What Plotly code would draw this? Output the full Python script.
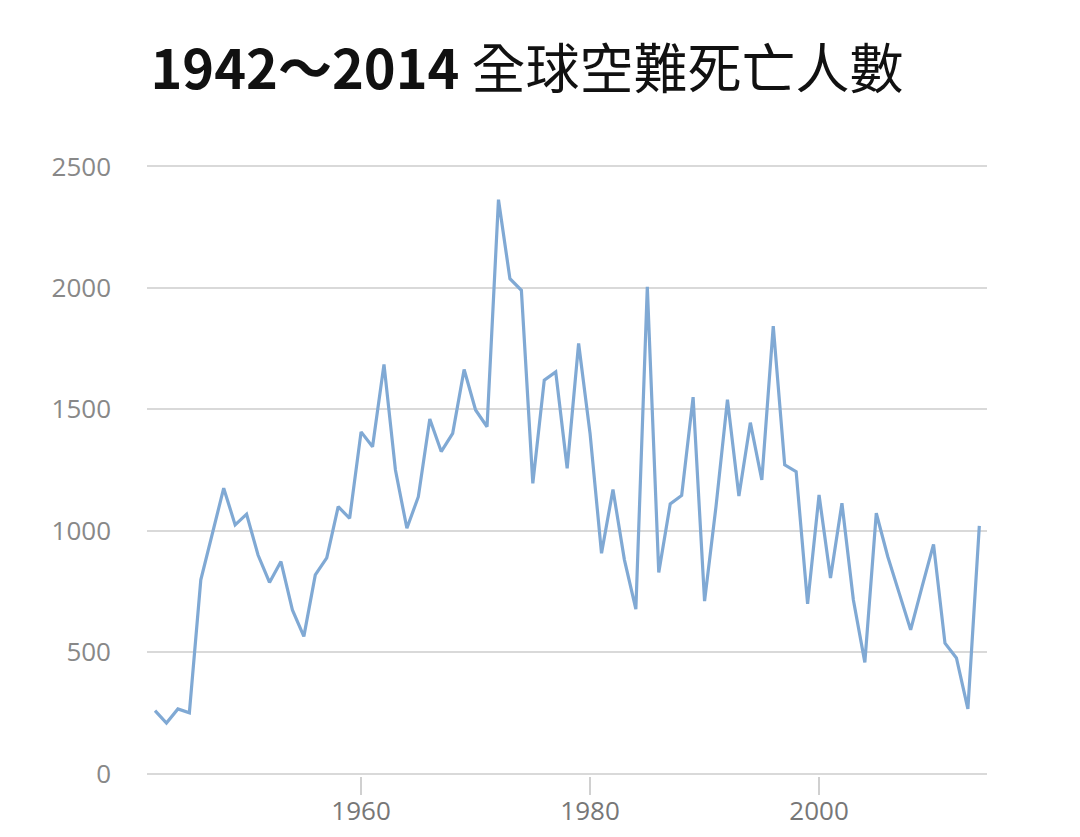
import plotly.graph_objects as go

years = list(range(1942, 2015))
deaths = [259, 208, 266, 250, 798, 990, 1175, 1024, 1068, 900,
          787, 873, 674, 565, 818, 888, 1099, 1051, 1407, 1346,
          1685, 1250, 1010, 1140, 1460, 1326, 1401, 1664, 1497, 1428,
          2363, 2038, 1990, 1195, 1620, 1654, 1257, 1771, 1400, 907,
          1170, 880, 677, 2004, 828, 1110, 1145, 1550, 710, 1100,
          1540, 1143, 1445, 1209, 1842, 1271, 1243, 699, 1147, 805,
          1113, 715, 458, 1072, 894, 743, 592, 770, 944, 537,
          476, 266, 1020]

x_ticks = [1960, 1980, 2000]
y_ticks = [0, 500, 1000, 1500, 2000, 2500]
title_text = "<b>1942～2014</b> 全球空難死亡人數"

fig = go.Figure()
fig.add_trace(go.Scatter(
    x=years, y=deaths, mode="lines",
    line=dict(color="#80a9d4", width=3.2),
    hoverinfo="x+y",
))

fig.update_layout(
    width=1080, height=837,
    margin=dict(l=139, r=101, t=155.6, b=68.6, autoexpand=False),
    paper_bgcolor="white", plot_bgcolor="white",
    showlegend=False,
    title=dict(
        text=title_text,
        x=519 / 1080, xanchor="center", xref="container",
        y=1 - 62 / 837, yanchor="middle", yref="container",
        font=dict(family="Noto Sans CJK TC", size=54, color="#111111"),
    ),
)

fig.update_xaxes(
    range=[1941.3, 2014.67],
    tickvals=x_ticks, ticktext=[str(v) for v in x_ticks],
    showgrid=False, zeroline=False, showline=False,
    ticks="outside", ticklen=18, tickwidth=1.5, tickcolor="#d0d0d0",
    ticklabelstandoff=-6,
    tickfont=dict(family="Open Sans", size=26, color="#777777"),
    automargin=False,
)
fig.update_yaxes(
    range=[-10, 2510],
    tickvals=y_ticks, ticktext=[str(v) for v in y_ticks],
    showgrid=True, gridcolor="#d9d9d9", gridwidth=2,
    zeroline=False, showline=False,
    ticks="", ticklabelstandoff=35,
    tickfont=dict(family="Open Sans", size=26, color="#888888"),
    automargin=False,
)

fig.write_html("out.html")
